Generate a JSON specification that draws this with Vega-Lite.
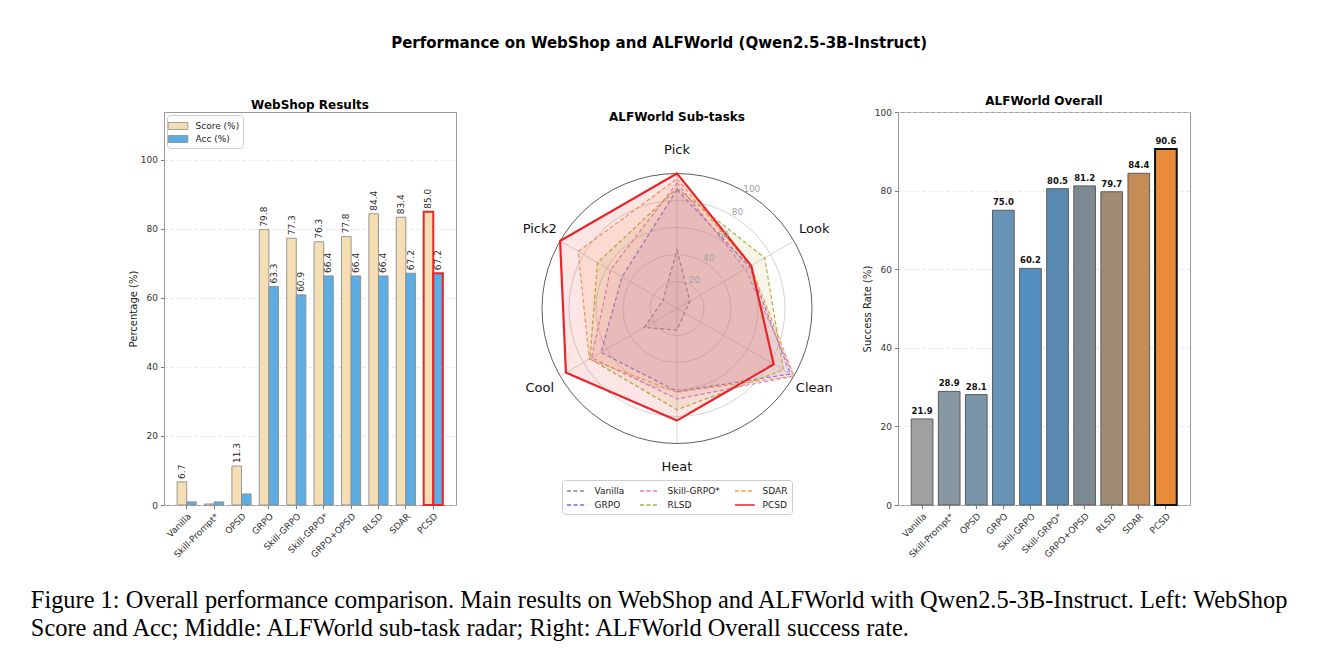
{
  "$schema": "https://vega.github.io/schema/vega-lite/v6.json",
  "background": "white",
  "padding": {"left": 30, "top": 35, "right": 5, "bottom": 5},
  "title": {
    "text": ["Figure 1: Overall performance comparison. Main results on WebShop and ALFWorld with Qwen2.5-3B-Instruct. Left: WebShop", "Score and Acc; Middle: ALFWorld sub-task radar; Right: ALFWorld Overall success rate."],
    "orient": "bottom", "anchor": "start", "align": "left", "frame": "bounds", "dx": -97,
    "font": "Liberation Serif", "fontSize": 24.4, "fontWeight": "normal", "lineHeight": 28, "offset": 29, "color": "black"
  },
  "vconcat": [
    {
      "title": {"text": "Performance on WebShop and ALFWorld (Qwen2.5-3B-Instruct)", "fontSize": 15, "fontWeight": "bold", "anchor": "middle", "offset": 44},
      "spacing": 86,
      "bounds": "flush",
      "resolve": {
        "scale": {"fill": "independent", "color": "independent"},
        "legend": {"fill": "independent", "color": "independent"}
      },
      "hconcat": [
        {
          "width": 292,
          "height": 393,
          "title": {"text": "WebShop Results", "fontSize": 12, "offset": 0},
          "data": {"values": [
            {"method": "Vanilla", "metric": "Score (%)", "value": 6.7},
            {"method": "Vanilla", "metric": "Acc (%)", "value": 0.9},
            {"method": "Skill-Prompt*", "metric": "Score (%)", "value": 0.3},
            {"method": "Skill-Prompt*", "metric": "Acc (%)", "value": 0.9},
            {"method": "OPSD", "metric": "Score (%)", "value": 11.3},
            {"method": "OPSD", "metric": "Acc (%)", "value": 3.2},
            {"method": "GRPO", "metric": "Score (%)", "value": 79.8},
            {"method": "GRPO", "metric": "Acc (%)", "value": 63.3},
            {"method": "Skill-GRPO", "metric": "Score (%)", "value": 77.3},
            {"method": "Skill-GRPO", "metric": "Acc (%)", "value": 60.9},
            {"method": "Skill-GRPO*", "metric": "Score (%)", "value": 76.3},
            {"method": "Skill-GRPO*", "metric": "Acc (%)", "value": 66.4},
            {"method": "GRPO+OPSD", "metric": "Score (%)", "value": 77.8},
            {"method": "GRPO+OPSD", "metric": "Acc (%)", "value": 66.4},
            {"method": "RLSD", "metric": "Score (%)", "value": 84.4},
            {"method": "RLSD", "metric": "Acc (%)", "value": 66.4},
            {"method": "SDAR", "metric": "Score (%)", "value": 83.4},
            {"method": "SDAR", "metric": "Acc (%)", "value": 67.2},
            {"method": "PCSD", "metric": "Score (%)", "value": 85.0},
            {"method": "PCSD", "metric": "Acc (%)", "value": 67.2}
          ]},
          "encoding": {
            "x": {"field": "method", "type": "nominal", "sort": null,
              "scale": {"domain": ["Vanilla", "Skill-Prompt*", "OPSD", "GRPO", "Skill-GRPO", "Skill-GRPO*", "GRPO+OPSD", "RLSD", "SDAR", "PCSD"], "paddingInner": 0.3, "paddingOuter": 0.48},
              "axis": {"title": null, "labelAngle": -45, "labelAlign": "right", "labelBaseline": "top", "grid": false}},
            "xOffset": {"field": "metric", "type": "nominal", "scale": {"domain": ["Score (%)", "Acc (%)"], "paddingInner": 0, "paddingOuter": 0}},
            "y": {"field": "value", "type": "quantitative",
              "scale": {"domain": [0, 113.9], "nice": false},
              "axis": {"title": "Percentage (%)", "values": [0, 20, 40, 60, 80, 100], "grid": true}}
          },
          "layer": [
            {
              "mark": {"type": "bar"},
              "encoding": {
                "fill": {"field": "metric", "type": "nominal",
                  "scale": {"domain": ["Score (%)", "Acc (%)"], "range": ["#F5DEB3", "#5DADE2"]},
                  "legend": {"orient": "top-left", "offset": 3, "title": null, "symbolType": "M-1.4,-0.5L1.4,-0.5L1.4,0.5L-1.4,0.5Z", "symbolSize": 196, "symbolStrokeColor": "#8c8c8c", "symbolStrokeWidth": 0.8, "labelFontSize": 9, "strokeColor": "#cccccc", "fillColor": "white", "padding": 3.5, "cornerRadius": 3, "rowPadding": -1, "labelOffset": 10}},
                "stroke": {"condition": {"test": "datum.method === 'PCSD'", "value": "#e8262a"}, "value": "#8c8c8c"},
                "strokeWidth": {"condition": {"test": "datum.method === 'PCSD'", "value": 2}, "value": 0.9}
              }
            },
            {
              "transform": [{"filter": "datum.value > 5"}],
              "mark": {"type": "text", "angle": 270, "align": "left", "baseline": "middle", "dx": 3, "fontSize": 9, "color": "#2a2a2a"},
              "encoding": {
                "text": {"field": "value", "type": "quantitative", "format": ".1f"}
              }
            }
          ]
        },
        {
          "width": 270,
          "height": 393,
          "view": {"stroke": null},
          "title": {"text": "ALFWorld Sub-tasks", "fontSize": 12, "offset": -12},
          "layer": [
            {
              "data": {"values": [{"r": 20}, {"r": 40}, {"r": 60}, {"r": 80}, {"r": 100}]},
              "mark": {"type": "point", "shape": "circle", "filled": false, "strokeWidth": 0.8, "opacity": 1},
              "encoding": {
                "x": {"datum": 0, "type": "quantitative", "scale": {"domain": [-100, 100], "nice": false, "zero": false}, "axis": null},
                "y": {"datum": 0, "type": "quantitative", "scale": {"domain": [-145.56, 145.56], "nice": false, "zero": false}, "axis": null},
                "size": {"field": "r", "type": "quantitative", "scale": {"type": "pow", "exponent": 2, "domain": [0, 100], "range": [0, 72900], "zero": true}, "legend": null},
                "stroke": {"condition": {"test": "datum.r === 100", "value": "#333333"}, "value": "#c8c8c8"}
              }
            },
            {
              "data": {"values": [{"axis": "Pick"}, {"axis": "Look"}, {"axis": "Clean"}, {"axis": "Heat"}, {"axis": "Cool"}, {"axis": "Pick2"}]},
              "transform": [
                {"calculate": "indexof(['Pick','Look','Clean','Heat','Cool','Pick2'], datum.axis)", "as": "k"},
                {"calculate": "PI/2 - datum.k*PI/3", "as": "ang"},
                {"calculate": "100*cos(datum.ang)", "as": "sx"},
                {"calculate": "100*sin(datum.ang)", "as": "sy"}
              ],
              "mark": {"type": "rule", "color": "#c8c8c8", "strokeWidth": 0.8},
              "encoding": {
                "x": {"field": "sx", "type": "quantitative", "scale": {"domain": [-100, 100], "nice": false, "zero": false}, "axis": null},
                "y": {"field": "sy", "type": "quantitative", "scale": {"domain": [-145.56, 145.56], "nice": false, "zero": false}, "axis": null},
                "x2": {"datum": 0},
                "y2": {"datum": 0}
              }
            },
            {
              "data": {"values": [
                {"series": "Vanilla", "axis": "Pick", "value": 43.5},
                {"series": "Vanilla", "axis": "Look", "value": 11},
                {"series": "Vanilla", "axis": "Clean", "value": 6.5},
                {"series": "Vanilla", "axis": "Heat", "value": 16},
                {"series": "Vanilla", "axis": "Cool", "value": 28},
                {"series": "Vanilla", "axis": "Pick2", "value": 12},
                {"series": "GRPO", "axis": "Pick", "value": 88},
                {"series": "GRPO", "axis": "Look", "value": 62},
                {"series": "GRPO", "axis": "Clean", "value": 97},
                {"series": "GRPO", "axis": "Heat", "value": 61.5},
                {"series": "GRPO", "axis": "Cool", "value": 65},
                {"series": "GRPO", "axis": "Pick2", "value": 47},
                {"series": "Skill-GRPO*", "axis": "Pick", "value": 93},
                {"series": "Skill-GRPO*", "axis": "Look", "value": 58.5},
                {"series": "Skill-GRPO*", "axis": "Clean", "value": 100},
                {"series": "Skill-GRPO*", "axis": "Heat", "value": 67},
                {"series": "Skill-GRPO*", "axis": "Cool", "value": 73},
                {"series": "Skill-GRPO*", "axis": "Pick2", "value": 57},
                {"series": "RLSD", "axis": "Pick", "value": 89},
                {"series": "RLSD", "axis": "Look", "value": 75},
                {"series": "RLSD", "axis": "Clean", "value": 91},
                {"series": "RLSD", "axis": "Heat", "value": 75},
                {"series": "RLSD", "axis": "Cool", "value": 74.5},
                {"series": "RLSD", "axis": "Pick2", "value": 68},
                {"series": "SDAR", "axis": "Pick", "value": 96},
                {"series": "SDAR", "axis": "Look", "value": 63},
                {"series": "SDAR", "axis": "Clean", "value": 100},
                {"series": "SDAR", "axis": "Heat", "value": 62},
                {"series": "SDAR", "axis": "Cool", "value": 75},
                {"series": "SDAR", "axis": "Pick2", "value": 84.5},
                {"series": "PCSD", "axis": "Pick", "value": 100},
                {"series": "PCSD", "axis": "Look", "value": 63.5},
                {"series": "PCSD", "axis": "Clean", "value": 82.7},
                {"series": "PCSD", "axis": "Heat", "value": 83},
                {"series": "PCSD", "axis": "Cool", "value": 95},
                {"series": "PCSD", "axis": "Pick2", "value": 100}
              ]},
              "transform": [
                {"calculate": "indexof(['Pick','Look','Clean','Heat','Cool','Pick2'], datum.axis)", "as": "k"},
                {"calculate": "PI/2 - datum.k*PI/3", "as": "ang"},
                {"calculate": "datum.value*cos(datum.ang)", "as": "px"},
                {"calculate": "datum.value*sin(datum.ang)", "as": "py"}
              ],
              "mark": {"type": "line", "interpolate": "linear-closed", "fillOpacity": 0.12},
              "encoding": {
                "x": {"field": "px", "type": "quantitative", "scale": {"domain": [-100, 100], "nice": false, "zero": false}, "axis": null},
                "y": {"field": "py", "type": "quantitative", "scale": {"domain": [-145.56, 145.56], "nice": false, "zero": false}, "axis": null},
                "order": {"field": "k", "type": "quantitative"},
                "stroke": {"field": "series", "type": "nominal",
                  "scale": {"domain": ["Vanilla", "Skill-GRPO*", "SDAR", "GRPO", "RLSD", "PCSD"], "range": ["#8a8a8a", "#e07ad6", "#f59c55", "#7b68ee", "#b5ab45", "#e8262a"]},
                  "legend": {"orient": "none", "legendX": 398, "legendY": 368, "columns": 3, "direction": "horizontal", "title": null, "symbolType": "M-1,0L2.3,0", "symbolSize": 144, "symbolStrokeWidth": 1.5, "symbolFillColor": "transparent", "labelFontSize": 9, "strokeColor": "#cccccc", "fillColor": "white", "padding": 4, "cornerRadius": 3, "columnPadding": 12, "rowPadding": 2, "labelOffset": 14.5}},
                "fill": {"field": "series", "type": "nominal",
                  "scale": {"domain": ["Vanilla", "Skill-GRPO*", "SDAR", "GRPO", "RLSD", "PCSD"], "range": ["#8a8a8a", "#e07ad6", "#f59c55", "#7b68ee", "#b5ab45", "#e8262a"]},
                  "legend": null},
                "strokeDash": {"field": "series", "type": "nominal",
                  "scale": {"domain": ["Vanilla", "Skill-GRPO*", "SDAR", "GRPO", "RLSD", "PCSD"], "range": [[4, 2.5], [4, 2.5], [4, 2.5], [4, 2.5], [4, 2.5], [1, 0]]}},
                "strokeWidth": {"condition": {"test": "datum.series === 'PCSD'", "value": 2.2}, "value": 1.2}
              }
            },
            {
              "data": {"values": [{"t": "20", "r": 20}, {"t": "40", "r": 40}, {"t": "60", "r": 60}, {"t": "80", "r": 80}, {"t": "100", "r": 100}]},
              "transform": [
                {"calculate": "(datum.r + 4.5)*cos(58*PI/180)", "as": "lx"},
                {"calculate": "(datum.r + 4.5)*sin(58*PI/180)", "as": "ly"}
              ],
              "mark": {"type": "text", "fontSize": 9, "color": "#a0a0a0", "align": "center", "baseline": "middle"},
              "encoding": {
                "x": {"field": "lx", "type": "quantitative", "scale": {"domain": [-100, 100], "nice": false, "zero": false}, "axis": null},
                "y": {"field": "ly", "type": "quantitative", "scale": {"domain": [-145.56, 145.56], "nice": false, "zero": false}, "axis": null},
                "text": {"field": "t", "type": "nominal"}
              }
            },
            {
              "data": {"values": [{"axis": "Pick"}, {"axis": "Look"}, {"axis": "Clean"}, {"axis": "Heat"}, {"axis": "Cool"}, {"axis": "Pick2"}]},
              "transform": [
                {"calculate": "indexof(['Pick','Look','Clean','Heat','Cool','Pick2'], datum.axis)", "as": "k"},
                {"calculate": "PI/2 - datum.k*PI/3", "as": "ang"},
                {"calculate": "117.4*cos(datum.ang)", "as": "tx"},
                {"calculate": "117.4*sin(datum.ang)", "as": "ty"}
              ],
              "mark": {"type": "text", "fontSize": 13, "color": "#111111", "align": "center", "baseline": "middle"},
              "encoding": {
                "x": {"field": "tx", "type": "quantitative", "scale": {"domain": [-100, 100], "nice": false, "zero": false}, "axis": null},
                "y": {"field": "ty", "type": "quantitative", "scale": {"domain": [-145.56, 145.56], "nice": false, "zero": false}, "axis": null},
                "text": {"field": "axis", "type": "nominal"}
              }
            }
          ]
        },
        {
          "width": 292,
          "height": 393,
          "title": {"text": "ALFWorld Overall", "fontSize": 12, "offset": 0},
          "data": {"values": [
            {"method": "Vanilla", "sr": 21.9},
            {"method": "Skill-Prompt*", "sr": 28.9},
            {"method": "OPSD", "sr": 28.1},
            {"method": "GRPO", "sr": 75.0},
            {"method": "Skill-GRPO", "sr": 60.2},
            {"method": "Skill-GRPO*", "sr": 80.5},
            {"method": "GRPO+OPSD", "sr": 81.2},
            {"method": "RLSD", "sr": 79.7},
            {"method": "SDAR", "sr": 84.4},
            {"method": "PCSD", "sr": 90.6}
          ]},
          "encoding": {
            "x": {"field": "method", "type": "nominal", "sort": null,
              "scale": {"domain": ["Vanilla", "Skill-Prompt*", "OPSD", "GRPO", "Skill-GRPO", "Skill-GRPO*", "GRPO+OPSD", "RLSD", "SDAR", "PCSD"], "paddingInner": 0.2, "paddingOuter": 0.49},
              "axis": {"title": null, "labelAngle": -45, "labelAlign": "right", "labelBaseline": "top", "grid": false}},
            "y": {"field": "sr", "type": "quantitative",
              "scale": {"domain": [0, 100], "nice": false},
              "axis": {"title": "Success Rate (%)", "values": [0, 20, 40, 60, 80, 100], "grid": true}}
          },
          "layer": [
            {
              "mark": {"type": "bar"},
              "encoding": {
                "color": {"field": "method", "type": "nominal",
                  "scale": {"domain": ["Vanilla", "Skill-Prompt*", "OPSD", "GRPO", "Skill-GRPO", "Skill-GRPO*", "GRPO+OPSD", "RLSD", "SDAR", "PCSD"],
                    "range": ["#a0a0a0", "#8897a4", "#7a95ab", "#6793b7", "#528fc0", "#5a89b0", "#7d8a92", "#a08b73", "#c48d58", "#e88c3a"]},
                  "legend": null},
                "stroke": {"condition": {"test": "datum.method === 'PCSD'", "value": "#111111"}, "value": "#5c5c5c"},
                "strokeWidth": {"condition": {"test": "datum.method === 'PCSD'", "value": 2}, "value": 1}
              }
            },
            {
              "mark": {"type": "text", "baseline": "bottom", "align": "center", "dy": -3, "fontSize": 8.5, "fontWeight": "bold", "color": "#111111"},
              "encoding": {
                "text": {"field": "sr", "type": "quantitative", "format": ".1f"}
              }
            }
          ]
        }
      ]
    }
  ],
  "config": {
    "font": "DejaVu Sans",
    "view": {"stroke": "#9a9a9a", "strokeWidth": 1},
    "title": {"font": "DejaVu Sans", "fontWeight": "bold", "color": "#000000"},
    "axis": {
      "labelFont": "DejaVu Sans", "labelFontSize": 9, "labelColor": "#333333",
      "titleFont": "DejaVu Sans", "titleFontSize": 10, "titleFontWeight": "normal", "titleColor": "#222222",
      "tickColor": "#7a7a7a", "tickSize": 3.5, "labelPadding": 3, "titlePadding": 2,
      "domain": false, "gridColor": "#dadada", "gridDash": [3, 3], "gridWidth": 0.7
    },
    "legend": {"labelFont": "DejaVu Sans", "labelColor": "#222222"}
  }
}
